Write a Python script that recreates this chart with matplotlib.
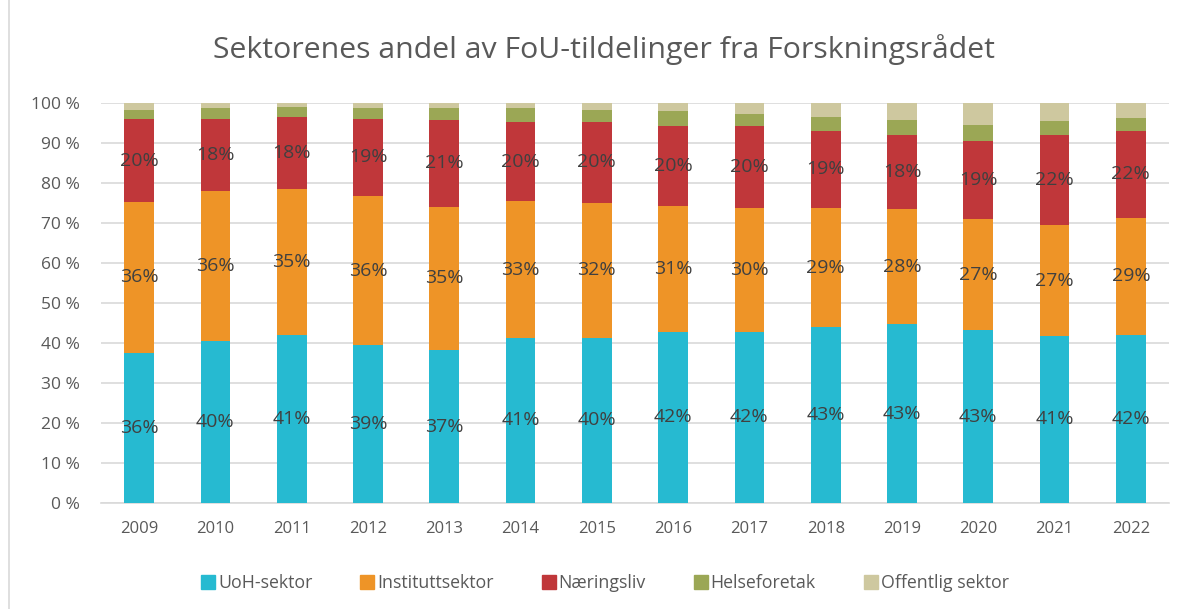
import matplotlib
matplotlib.use("Agg")
import matplotlib.pyplot as plt
import numpy as np
from matplotlib.lines import Line2D

plt.rcParams["font.family"] = ["Open Sans", "DejaVu Sans"]

# ---- data (share of allocations, %) ----
years = ["2009", "2010", "2011", "2012", "2013", "2014", "2015",
         "2016", "2017", "2018", "2019", "2020", "2021", "2022"]
series = ["UoH-sektor", "Instituttsektor", "Næringsliv", "Helseforetak", "Offentlig sektor"]
uoh = [37.6, 40.5, 42.1, 39.5, 38.2, 41.3, 41.3, 42.8, 42.8, 44.0, 44.7, 43.2, 41.8, 42.1]
institutt = [37.6, 37.5, 36.3, 37.2, 35.9, 34.1, 33.7, 31.4, 31.0, 29.7, 28.7, 27.7, 27.6, 29.2]
naering = [20.8, 18.0, 18.1, 19.4, 21.7, 19.9, 20.3, 20.1, 20.5, 19.4, 18.6, 19.5, 22.6, 21.8]
helse = [2.3, 2.7, 2.6, 2.6, 2.9, 3.4, 3.0, 3.7, 3.0, 3.5, 3.8, 4.2, 3.4, 3.1]
offentlig = [1.7, 1.3, 0.9, 1.3, 1.3, 1.3, 1.7, 2.0, 2.7, 3.4, 4.2, 5.4, 4.6, 3.8]
# data labels as printed in the source chart
lab_uoh = [36, 40, 41, 39, 37, 41, 40, 42, 42, 43, 43, 43, 41, 42]
lab_inst = [36, 36, 35, 36, 35, 33, 32, 31, 30, 29, 28, 27, 27, 29]
lab_naer = [20, 18, 18, 19, 21, 20, 20, 20, 20, 19, 18, 19, 22, 22]

COLORS = ["#26BAD1", "#EE9427", "#C0373A", "#9BA755", "#CEC89F"]
INK, MUTED, GRID = "#404040", "#595959", "#D9D9D9"

fig = plt.figure(figsize=(11.93, 6.09), dpi=100)
ax = fig.add_axes([101 / 1193, 1 - 503 / 609, 1068 / 1193, 400 / 609])

x = np.arange(len(years))
values = [uoh, institutt, naering, helse, offentlig]
labels = [lab_uoh, lab_inst, lab_naer, None, None]
bottom = np.zeros(len(years))
for vals, col, labs in zip(values, COLORS, labels):
    vals = np.array(vals)
    ax.bar(x, vals, 0.39, bottom=bottom, color=col, zorder=3)
    if labs is not None:
        for xi, b, v, l in zip(x, bottom, vals, labs):
            ax.text(xi, b + v / 2, f"{l}%", ha="center", va="center",
                    size=14, color=INK, zorder=4)
    bottom += vals

ax.set_xlim(-0.5, len(years) - 0.5)
ax.set_ylim(0, 100)
ax.set_yticks(range(0, 101, 10))
ax.set_yticklabels([f"{v} %" for v in range(0, 101, 10)])
ax.set_xticks(x)
ax.set_xticklabels(years)
ax.tick_params(length=0, colors=MUTED, labelsize=12.5)
ax.tick_params(axis="x", labelsize=12, pad=13)
ax.tick_params(axis="y", pad=15)
ax.grid(axis="y", color=GRID, lw=1.2, zorder=0)
for s in ("top", "right", "left"):
    ax.spines[s].set_visible(False)
ax.spines["bottom"].set_color(GRID)
ax.spines["bottom"].set_linewidth(1.2)

fig.text(604 / 1193, 1 - 50 / 609, "Sektorenes andel av FoU-tildelinger fra Forskningsrådet",
         ha="center", va="center", size=21.8, color=MUTED)

handles = [Line2D([], [], marker="s", ls="", color=c, ms=9.5) for c in COLORS]
fig.legend(handles, series, loc="center", bbox_to_anchor=(604 / 1193, 1 - 583 / 609),
           ncol=5, frameon=False, fontsize=12.8, labelcolor=MUTED,
           handletextpad=0.05, columnspacing=2.6, handlelength=1.0)

# faint chart-area border on the left
fig.add_artist(Line2D([9 / 1193, 9 / 1193], [0, 1], color=GRID, lw=1.2))

fig.savefig("out.png", dpi=100, facecolor="white")
